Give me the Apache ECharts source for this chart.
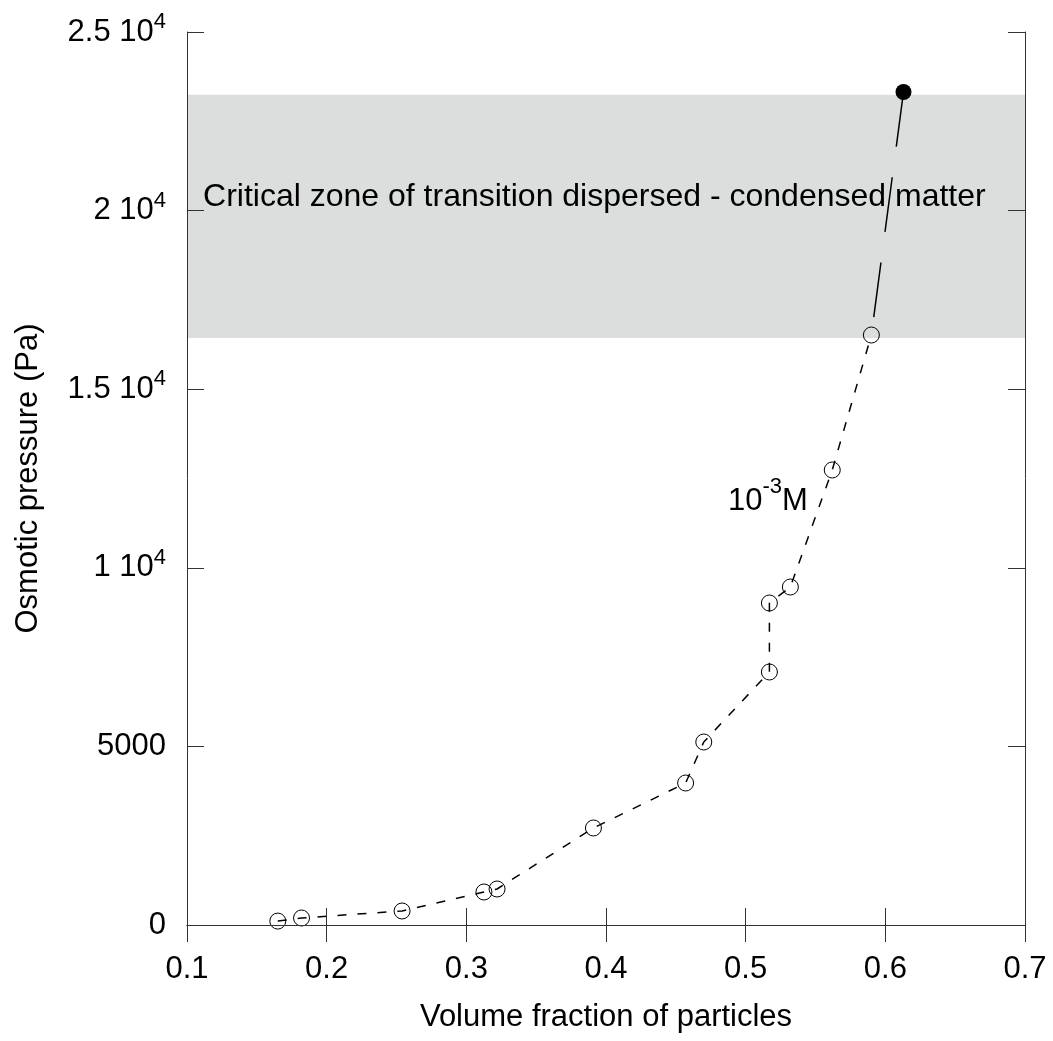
<!DOCTYPE html>
<html>
<head>
<meta charset="utf-8">
<script src="https://cdn.jsdelivr.net/npm/echarts@6/dist/echarts.min.js"></script>
<style>
html,body{margin:0;padding:0;background:#fff;}
#chart{width:1053px;height:1041px;}
</style>
</head>
<body>
<div id="chart"></div>
<script>
// ---- data ----
const phiOpen = [0.165, 0.182, 0.254, 0.3126, 0.322, 0.391, 0.457, 0.470, 0.517, 0.517, 0.532, 0.562, 0.590];
const pressureOpen = [110, 196, 392, 924, 1008, 2716, 3975, 5123, 7083, 9014, 9462, 12738, 16517];
const phiFilled = [0.613];
const pressureFilled = [23320];
const bandRange = [16430, 23240];
const xTickLabels = ['0.1', '0.2', '0.3', '0.4', '0.5', '0.6', '0.7'];
const yTickLabels = ['0', '5000', '1 10{sup|4}', '1.5 10{sup|4}', '2 10{sup|4}', '2.5 10{sup|4}'];
const zoneText = 'Critical zone of transition dispersed - condensed matter';
const concText = '10{sup|-3}M';

const FONT = 'Liberation Sans, Arial, Helvetica, sans-serif';
const AX = '#333';

const openData = phiOpen.map((x, i) => [x, pressureOpen[i]]);
const filledData = phiFilled.map((x, i) => [x, pressureFilled[i]]);
const jumpData = [filledData[0], openData[openData.length - 1]];

const chart = echarts.init(document.getElementById('chart'), null, {renderer: 'canvas'});

const baseX = {
  type: 'value', min: 0.1, max: 0.7, interval: 0.1, z: 10,
  splitLine: {show: false},
  axisLine: {show: true, lineStyle: {color: AX, width: 1}},
  axisTick: {show: true, inside: true, length: 17, lineStyle: {color: AX, width: 1}}
};
const baseY = {
  type: 'value', min: 0, max: 25000, interval: 5000, z: 10,
  splitLine: {show: false},
  axisLine: {show: true, lineStyle: {color: AX, width: 1}},
  axisTick: {show: true, inside: true, length: 17, lineStyle: {color: AX, width: 1}}
};

const option = {
  backgroundColor: '#fff',
  animation: false,
  textStyle: {fontFamily: FONT},
  grid: {left: 187, right: 28, top: 32, bottom: 116, containLabel: false},
  xAxis: [
    Object.assign({}, baseX, {
      position: 'bottom',
      name: 'Volume fraction of particles',
      nameLocation: 'middle', nameGap: 77,
      nameTextStyle: {fontSize: 31, color: '#000', fontFamily: FONT},
      axisLabel: {
        show: true, margin: 29, fontSize: 31, color: '#000', fontFamily: FONT,
        formatter: v => xTickLabels[Math.round((v - 0.1) / 0.1)]
      }
    }),
    Object.assign({}, baseX, {position: 'top', axisLabel: {show: false}})
  ],
  yAxis: [
    Object.assign({}, baseY, {
      position: 'left',
      name: 'Osmotic pressure (Pa)',
      nameLocation: 'middle', nameGap: 143,
      nameTextStyle: {fontSize: 31, color: '#000', fontFamily: FONT},
      axisLabel: {
        show: true, margin: 21, fontSize: 31, color: '#000', fontFamily: FONT,
        formatter: v => yTickLabels[Math.round(v / 5000)],
        rich: {sup: {fontSize: 22, color: '#000', fontFamily: FONT, padding: [0, 0, 20, 0]}}
      }
    }),
    Object.assign({}, baseY, {position: 'right', axisLabel: {show: false}})
  ],
  series: [
    {
      type: 'line', name: 'band', data: [], z: 1,
      markArea: {
        silent: true,
        itemStyle: {color: '#dcdddd'},
        data: [[{yAxis: bandRange[0]}, {yAxis: bandRange[1]}]]
      }
    },
    {
      type: 'line', name: 'compact', data: jumpData, z: 3,
      symbol: 'none',
      lineStyle: {color: '#000', width: 1.5, type: [55, 31]}
    },
    {
      type: 'line', name: '1e-3 M', data: openData, z: 4,
      symbol: 'circle', symbolSize: 16,
      itemStyle: {color: 'rgba(0,0,0,0)', borderColor: '#000', borderWidth: 1},
      lineStyle: {color: '#000', width: 1.5, type: [9, 11]}
    },
    {
      type: 'scatter', name: 'filled', data: filledData, z: 5,
      symbol: 'circle', symbolSize: 16,
      itemStyle: {color: '#000', opacity: 1}
    },
    {
      type: 'scatter', name: 'labels', z: 6, symbolSize: 0, silent: true,
      itemStyle: {opacity: 1},
      data: [
        {value: [0.1115, 20380], label: {formatter: zoneText, fontSize: 32}},
        {value: [0.4873, 11870], label: {formatter: concText}}
      ],
      label: {
        show: true, position: 'right', distance: 0, opacity: 1,
        fontSize: 31, color: '#000', fontFamily: FONT,
        rich: {sup: {fontSize: 22, color: '#000', fontFamily: FONT, padding: [0, 0, 28, 0]}}
      }
    }
  ]
};
chart.setOption(option);
</script>
</body>
</html>
